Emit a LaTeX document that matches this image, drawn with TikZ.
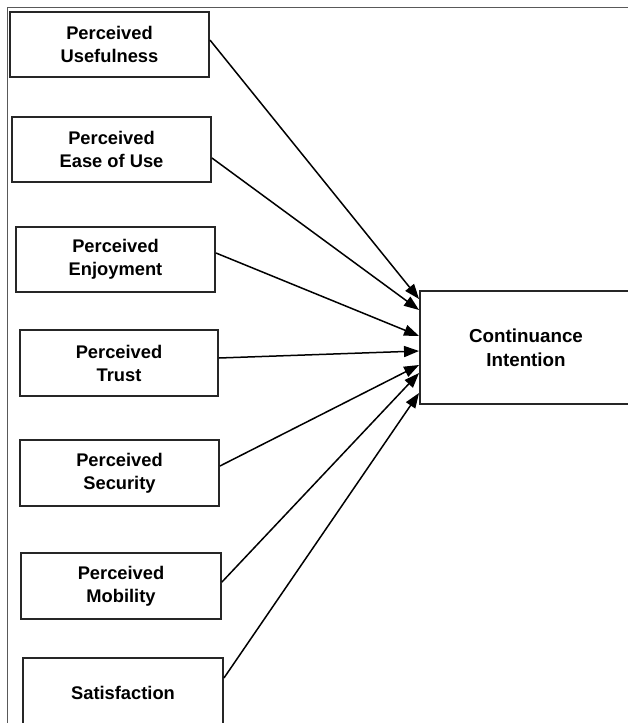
\documentclass[tikz,border=0pt]{standalone}
\usepackage{fontspec}
\setmainfont{Liberation Sans}
\usetikzlibrary{arrows.meta}

\begin{document}
\begin{tikzpicture}[
  x=1pt, y=-1pt,
  box/.style={draw=black!85, line width=1.9pt, align=center, inner sep=0pt,
    minimum width=199pt, minimum height=65pt,
    font=\fontsize{18.3}{23}\selectfont\bfseries},
  arrow/.style={-{Triangle[length=15pt, width=11pt]}, line width=1.5pt},
  frame/.style={draw=black!65, line width=1pt},
]
  \useasboundingbox (0,0) rectangle (628,723);
  \draw[frame] (7,730) -- (7,7) -- (640,7);

  \node[box] (useful) at (109.5,44.5) {Perceived\\Usefulness};
  \node[box] (ease) at (111.5,149.5) {Perceived\\Ease of Use};
  \node[box] (enjoy) at (115.5,259.5) {Perceived\\Enjoyment};
  \node[box, minimum width=198pt, minimum height=66pt] (trust) at (119,363) {Perceived\\Trust};
  \node[box, minimum height=66pt] (secur) at (119.5,473) {Perceived\\Security};
  \node[box, minimum width=200pt, minimum height=66pt] (mobil) at (121,586) {Perceived\\Mobility};
  \node[box, minimum width=200pt, minimum height=70pt] (satis) at (123,693) {Satisfaction};
  \node[box, minimum width=212pt, minimum height=113pt,
    font=\fontsize{18.8}{24}\selectfont\bfseries] (contin) at (526,347.5) {Continuance\\Intention};

  \draw[arrow] ([yshift=4.5pt]useful.east) -- ([yshift=48.5pt]contin.west);
  \draw[arrow] ([yshift=-8.5pt]ease.east) -- ([yshift=37.5pt]contin.west);
  \draw[arrow] ([yshift=6.5pt]enjoy.east) -- ([yshift=11.5pt]contin.west);
  \draw[arrow] ([yshift=5pt]trust.east) -- ([yshift=-3.5pt]contin.west);
  \draw[arrow] ([yshift=7pt]secur.east) -- ([yshift=-17.5pt]contin.west);
  \draw[arrow] ([yshift=4pt]mobil.east) -- ([yshift=-25.5pt]contin.west);
  \draw[arrow] ([yshift=15pt]satis.east) -- ([yshift=-45.5pt]contin.west);
\end{tikzpicture}
\end{document}
